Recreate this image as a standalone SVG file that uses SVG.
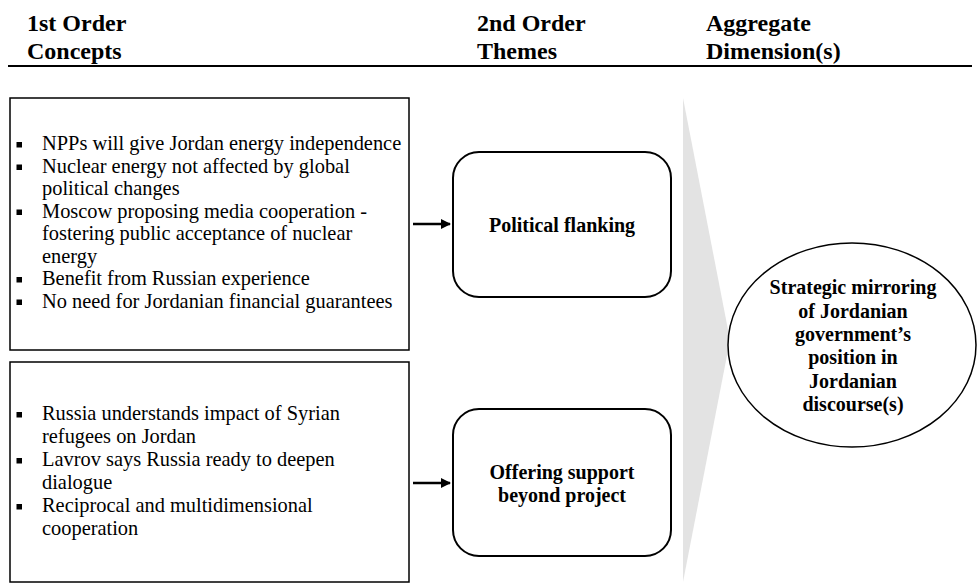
<svg xmlns="http://www.w3.org/2000/svg" width="978" height="585" viewBox="0 0 978 585">
<style>
.hdr{font-family:"Liberation Serif","Times New Roman",serif;font-weight:bold;font-size:24px;fill:#000}
.item{font-family:"Liberation Serif","Times New Roman",serif;font-size:20.4px;fill:#000}
.theme{font-family:"Liberation Serif","Times New Roman",serif;font-weight:bold;font-size:20px;fill:#000;text-anchor:middle}
.box{fill:#fff;stroke:#000;stroke-width:1.5}
.rbox{fill:#fff;stroke:#000;stroke-width:2}
.conn{stroke:#000;stroke-width:2.5;fill:none}
</style>
<defs>
<marker id="ah" markerWidth="10" markerHeight="10" refX="9" refY="5" orient="auto" markerUnits="userSpaceOnUse" viewBox="0 0 10 10">
<path d="M0,0 L10,5 L0,10 Z" fill="#000"/>
</marker>
<rect id="bul" width="5.5" height="5.5" fill="#000"/>
</defs>
<rect width="978" height="585" fill="#fff"/>

<g id="header">
<text class="hdr" x="27" y="31">1st Order</text>
<text class="hdr" x="27" y="59">Concepts</text>
<text class="hdr" x="477" y="31">2nd Order</text>
<text class="hdr" x="477" y="59">Themes</text>
<text class="hdr" x="706" y="31">Aggregate</text>
<text class="hdr" x="706" y="59">Dimension(s)</text>
<line x1="8" y1="66" x2="972" y2="66" stroke="#000" stroke-width="2"/>
</g>

<g id="chevron">
<polygon points="683,98 730,340 683,582" fill="#e3e3e3"/>
</g>

<g id="concepts1">
<rect class="box" x="10" y="98" width="399" height="252"/>
<use href="#bul" x="16.5" y="142"/>
<use href="#bul" x="16.5" y="164.5"/>
<use href="#bul" x="16.5" y="209.5"/>
<use href="#bul" x="16.5" y="277"/>
<use href="#bul" x="16.5" y="299.5"/>
<text class="item" x="42" y="150">NPPs will give Jordan energy independence</text>
<text class="item" x="42" y="172.5">Nuclear energy not affected by global</text>
<text class="item" x="42" y="195">political changes</text>
<text class="item" x="42" y="217.5">Moscow proposing media cooperation -</text>
<text class="item" x="42" y="240">fostering public acceptance of nuclear</text>
<text class="item" x="42" y="262.5">energy</text>
<text class="item" x="42" y="285">Benefit from Russian experience</text>
<text class="item" x="42" y="307.5">No need for Jordanian financial guarantees</text>
</g>

<g id="concepts2">
<rect class="box" x="10" y="362" width="399" height="220"/>
<use href="#bul" x="16.5" y="412"/>
<use href="#bul" x="16.5" y="458"/>
<use href="#bul" x="16.5" y="504"/>
<text class="item" x="42" y="420">Russia understands impact of Syrian</text>
<text class="item" x="42" y="443">refugees on Jordan</text>
<text class="item" x="42" y="466">Lavrov says Russia ready to deepen</text>
<text class="item" x="42" y="489">dialogue</text>
<text class="item" x="42" y="512">Reciprocal and multidimensional</text>
<text class="item" x="42" y="535">cooperation</text>
</g>

<g id="theme1">
<rect class="rbox" x="453" y="152" width="218" height="145" rx="26" ry="26"/>
<text class="theme" x="562" y="232">Political flanking</text>
</g>

<g id="theme2">
<rect class="rbox" x="453" y="409" width="218" height="147" rx="26" ry="26"/>
<text class="theme" x="562" y="479">Offering support</text>
<text class="theme" x="562" y="502">beyond project</text>
</g>

<g id="aggregate">
<ellipse cx="852" cy="345" rx="124" ry="102" fill="#fff" stroke="#000" stroke-width="1.5"/>
<text class="theme" x="853" y="294">Strategic mirroring</text>
<text class="theme" x="853" y="318">of Jordanian</text>
<text class="theme" x="853" y="341">government’s</text>
<text class="theme" x="853" y="364">position in</text>
<text class="theme" x="853" y="388">Jordanian</text>
<text class="theme" x="853" y="411">discourse(s)</text>
</g>

<g id="connectors">
<line class="conn" x1="413" y1="224" x2="450" y2="224" marker-end="url(#ah)"/>
<line class="conn" x1="413" y1="483" x2="450" y2="483" marker-end="url(#ah)"/>
</g>
</svg>
